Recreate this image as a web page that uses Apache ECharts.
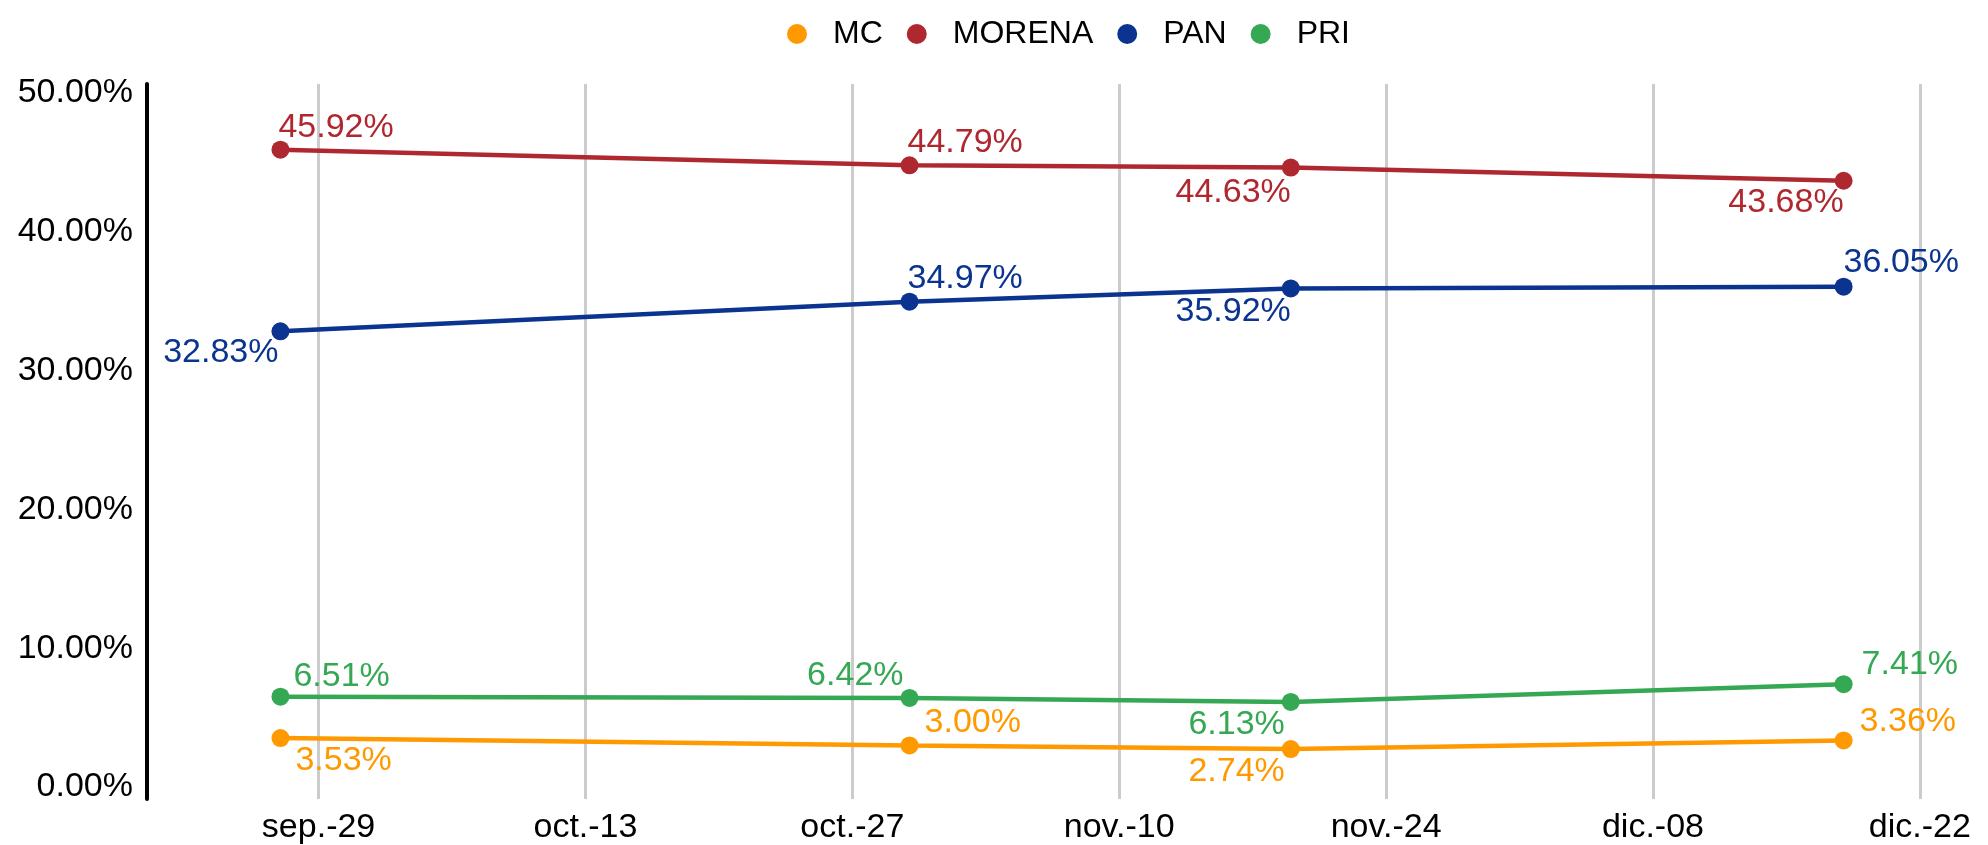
<!DOCTYPE html>
<html>
<head>
<meta charset="utf-8">
<script src="https://cdn.jsdelivr.net/npm/echarts@6/dist/echarts.min.js"></script>
<style>
  html, body { margin: 0; padding: 0; background: #fff; }
  #chart { width: 1988px; height: 845px; }
</style>
</head>
<body>
<div id="chart"></div>
<script>
// fechas de las encuestas
var fechas = ['2023-09-27', '2023-10-30', '2023-11-19', '2023-12-18'];
var serieMC     = [3.53, 3.00, 2.74, 3.36];
var serieMORENA = [45.92, 44.79, 44.63, 43.68];
var seriePAN    = [32.83, 34.97, 35.92, 36.05];
var seriePRI    = [6.51, 6.42, 6.13, 7.41];
var ticksX = ['2023-09-29', '2023-10-13', '2023-10-27', '2023-11-10', '2023-11-24', '2023-12-08', '2023-12-22'];
var ticksY = [0, 10, 20, 30, 40, 50];
var mesesCortos = ['ene.', 'feb.', 'mar.', 'abr.', 'may.', 'jun.', 'jul.', 'ago.', 'sep.', 'oct.', 'nov.', 'dic.'];

// posicion de cada etiqueta: [dx, dy, align]
var etiquetas = {
	MC:     [[15, 23, 'left'], [15, -23, 'left'], [-6, 23, 'right'], [16, -19, 'left']],
	MORENA: [[-2, -22, 'left'], [-2, -23, 'left'], [0, 25, 'right'], [0, 22, 'right']],
	PAN:    [[-2, 21, 'right'], [-2, -23, 'left'], [0, 23, 'right'], [0, -24, 'left']],
	PRI:    [[13, -20, 'left'], [-6, -22, 'right'], [-6, 23, 'right'], [18, -20, 'left']]
};

function ts(s) {
	var p = s.split('-');
	return new Date(+p[0], +p[1] - 1, +p[2]).getTime();
}

function armarSerie(nombre, valores, color) {
	return {
		name: nombre,
		type: 'line',
		symbol: 'circle',
		symbolSize: 18,
		itemStyle: { color: color },
		lineStyle: { color: color, width: 4.5 },
		data: valores.map(function (v, i) {
			var e = etiquetas[nombre][i];
			return {
				value: [ts(fechas[i]), v],
				label: {
					show: true,
					position: 'inside',
					offset: [e[0], e[1]],
					align: e[2],
					verticalAlign: 'middle',
					color: color,
					fontSize: 34,
					fontFamily: 'Liberation Sans',
					formatter: function (p) { return p.value[1].toFixed(2) + '%'; }
				}
			};
		})
	};
}

var chart = echarts.init(document.getElementById('chart'));
chart.setOption({
	animation: false,
	textStyle: { fontFamily: 'Liberation Sans' },
	legend: {
		left: 782,
		top: 13,
		icon: 'circle',
		itemWidth: 62,
		itemHeight: 20,
		itemGap: 24,
		textStyle: { fontSize: 32, color: '#000', fontFamily: 'Liberation Sans' },
		data: ['MC', 'MORENA', 'PAN', 'PRI']
	},
	grid: {
		left: 147,
		right: 30,
		top: 84,
		bottom: 45,
		containLabel: false
	},
	//x: fechas (en milisegundos)
	xAxis: {
		type: 'value',
		min: ts('2023-09-20'),
		max: ts('2023-12-24'),
		axisLine: { show: false },
		axisTick: { show: false, customValues: ticksX.map(ts) },
		axisLabel: {
			customValues: ticksX.map(ts),
			fontSize: 34,
			color: '#000',
			margin: 12,
			formatter: function (v) {
				var d = new Date(v);
				var dia = d.getDate();
				return mesesCortos[d.getMonth()] + '-' + (dia < 10 ? '0' + dia : dia);
			}
		},
		splitLine: { show: true, lineStyle: { color: '#cccccc', width: 3 } }
	},
	//y: porcentaje
	yAxis: {
		type: 'value',
		min: -0.86,
		max: 50.65,
		axisLine: { show: true, lineStyle: { color: '#000', width: 4 } },
		axisTick: { show: false, customValues: ticksY },
		axisLabel: {
			customValues: ticksY,
			fontSize: 34,
			color: '#000',
			margin: 14,
			formatter: function (v) { return v.toFixed(2) + '%'; }
		},
		splitLine: { show: false }
	},
	series: [
		armarSerie('MC', serieMC, '#FF9900'),
		armarSerie('MORENA', serieMORENA, '#B0282F'),
		armarSerie('PAN', seriePAN, '#0A3490'),
		armarSerie('PRI', seriePRI, '#34A853')
	]
});
</script>
</body>
</html>
